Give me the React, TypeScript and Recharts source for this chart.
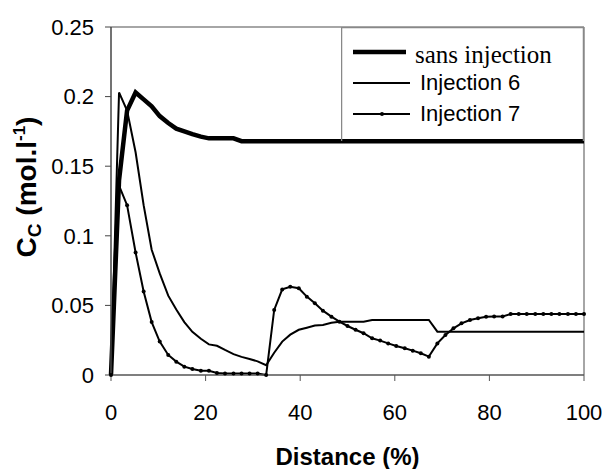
import React from "react";
import {
  LineChart,
  Line,
  XAxis,
  YAxis,
  Legend,
  ReferenceLine,
} from "recharts";

// distance along the reactor (%), one point every ~1.72 %
const distance = [
  0, 1.7, 3.4, 5.2, 6.9, 8.6, 10.3, 12.1, 13.8, 15.5, 17.2, 19.0, 20.7, 22.4,
  24.1, 25.9, 27.6, 29.3, 31.0, 32.8, 34.5, 36.2, 37.9, 39.7, 41.4, 43.1, 44.8,
  46.6, 48.3, 50.0, 51.7, 53.4, 55.2, 56.9, 58.6, 60.3, 62.1, 63.8, 65.5, 67.2,
  69.0, 70.7, 72.4, 74.1, 75.9, 77.6, 79.3, 81.0, 82.8, 84.5, 86.2, 87.9, 89.7,
  91.4, 93.1, 94.8, 96.6, 98.3, 100,
];

const sansInjection = [
  0, 0.14, 0.19, 0.203, 0.198, 0.193, 0.186, 0.181, 0.177, 0.175, 0.173,
  0.1712, 0.17, 0.17, 0.17, 0.17, 0.168, 0.168, 0.168, 0.168, 0.168, 0.168,
  0.168, 0.168, 0.168, 0.168, 0.168, 0.168, 0.168, 0.168, 0.168, 0.168, 0.168,
  0.168, 0.168, 0.168, 0.168, 0.168, 0.168, 0.168, 0.168, 0.168, 0.168, 0.168,
  0.168, 0.168, 0.168, 0.168, 0.168, 0.168, 0.168, 0.168, 0.168, 0.168, 0.168,
  0.168, 0.168, 0.168, 0.168,
];

const injection6 = [
  0, 0.203, 0.19, 0.16, 0.122, 0.09, 0.073, 0.057, 0.047, 0.038, 0.031, 0.026,
  0.022, 0.021, 0.018, 0.015, 0.013, 0.0115, 0.0098, 0.007, 0.016, 0.024,
  0.029, 0.0325, 0.034, 0.0355, 0.036, 0.0375, 0.0383, 0.0383, 0.0383, 0.0383,
  0.0395, 0.0395, 0.0395, 0.0395, 0.0395, 0.0395, 0.0395, 0.0395, 0.0311,
  0.0311, 0.0311, 0.0311, 0.0311, 0.0311, 0.0311, 0.0311, 0.0311, 0.0311,
  0.0311, 0.0311, 0.0311, 0.0311, 0.0311, 0.0311, 0.0311, 0.0311, 0.0311,
];

const injection7 = [
  0, 0.136, 0.122, 0.088, 0.06, 0.038, 0.024, 0.0144, 0.0096, 0.006, 0.0043,
  0.003, 0.003, 0.0015, 0.001, 0.001, 0.001, 0.001, 0.001, 0, 0.0467, 0.0615,
  0.0634, 0.0623, 0.0563, 0.0515, 0.0462, 0.0419, 0.0383, 0.0352, 0.0325, 0.03,
  0.0264, 0.0247, 0.0227, 0.0208, 0.0192, 0.0175, 0.0156, 0.0132, 0.0227,
  0.0287, 0.0335, 0.0371, 0.0395, 0.0407, 0.0419, 0.042, 0.042, 0.0438, 0.0438,
  0.0438, 0.0438, 0.0438, 0.0438, 0.0438, 0.0438, 0.0438, 0.0438,
];

const xTicks = [0, 20, 40, 60, 80, 100];
const yTicks = [0, 0.05, 0.1, 0.15, 0.2, 0.25];
const seriesNames = ["sans injection", "Injection 6", "Injection 7"];

const data = distance.map((d, i) => ({
  d,
  sans: sansInjection[i],
  inj6: injection6[i],
  inj7: injection7[i],
}));

const SANS = "'Liberation Sans', Arial, sans-serif";
const SERIF = "'Liberation Serif', 'Times New Roman', serif";

function ChartLegend() {
  return (
    <svg width={243} height={114} style={{ display: "block" }}>
      <path d="M0.5,114 V0.5 H242.5 V114" fill="none" stroke="#888" strokeWidth={1.5} />
      <line x1={12} x2={65} y1={25} y2={25} stroke="#000" strokeWidth={4.5} />
      <text x={74} y={36} fontFamily={SERIF} fontSize={25} fill="#000">
        {seriesNames[0]}
      </text>
      <line x1={12} x2={69} y1={56} y2={56} stroke="#000" strokeWidth={2} />
      <text x={79} y={63} fontFamily={SANS} fontSize={22} fill="#000">
        {seriesNames[1]}
      </text>
      <line x1={12} x2={69} y1={87} y2={87} stroke="#000" strokeWidth={2} />
      <circle cx={41} cy={87} r={2} fill="#000" />
      <text x={79} y={94} fontFamily={SANS} fontSize={22} fill="#000">
        {seriesNames[2]}
      </text>
    </svg>
  );
}

const renderYLabel = () => (
  <text
    x={36}
    y={187}
    transform="rotate(-90, 36, 187)"
    textAnchor="middle"
    fontFamily={SANS}
    fontWeight="bold"
    fontSize={28}
    fill="#000"
  >
    <tspan>C</tspan>
    <tspan fontSize={19} dy={5}>C</tspan>
    <tspan dy={-5}> (mol.l</tspan>
    <tspan fontSize={17} dy={-11}>-1</tspan>
    <tspan dy={11}>)</tspan>
  </text>
);

const renderXLabel = () => (
  <text
    x={347.5}
    y={465}
    textAnchor="middle"
    fontFamily={SANS}
    fontWeight="bold"
    fontSize={24}
    fill="#000"
  >
    Distance (%)
  </text>
);

export default function App() {
  return (
    <div style={{ position: "absolute", left: 0, top: 0, background: "#fff" }}>
      <LineChart
        width={604}
        height={469}
        data={data}
        margin={{ top: 27, right: 20, left: 0, bottom: 0 }}
      >
        <XAxis
          dataKey="d"
          type="number"
          domain={[0, 100]}
          ticks={xTicks}
          height={94}
          tickSize={6}
          tickMargin={23}
          tick={{ fontFamily: SANS, fontSize: 22, fill: "#000" }}
          axisLine={{ stroke: "#555", strokeWidth: 1.5 }}
          tickLine={{ stroke: "#555" }}
          label={renderXLabel}
        />
        <YAxis
          type="number"
          domain={[0, 0.25]}
          ticks={yTicks}
          width={111}
          tickSize={6}
          tickMargin={11}
          tickFormatter={(v: number) => String(v)}
          tick={{ fontFamily: SANS, fontSize: 22, fill: "#000" }}
          axisLine={{ stroke: "#444", strokeWidth: 1.5 }}
          tickLine={{ stroke: "#444" }}
          label={renderYLabel}
        />
        {/* plot frame, top and right */}
        <ReferenceLine y={0.25} stroke="#888" strokeWidth={1.5} />
        <ReferenceLine x={100} stroke="#888" strokeWidth={1.5} />
        <Line
          dataKey="sans"
          name={seriesNames[0]}
          type="linear"
          stroke="#000"
          strokeWidth={4.5}
          dot={false}
          isAnimationActive={false}
        />
        <Line
          dataKey="inj6"
          name={seriesNames[1]}
          type="linear"
          stroke="#000"
          strokeWidth={2}
          dot={false}
          isAnimationActive={false}
        />
        <Line
          dataKey="inj7"
          name={seriesNames[2]}
          type="linear"
          stroke="#000"
          strokeWidth={2}
          dot={{ r: 2, fill: "#000", stroke: "#000", strokeWidth: 0 }}
          isAnimationActive={false}
        />
        <Legend
          layout="vertical"
          align="center"
          verticalAlign="middle"
          wrapperStyle={{ left: 341, top: 27, width: 243, height: 114 }}
          content={() => <ChartLegend />}
        />
      </LineChart>
    </div>
  );
}
